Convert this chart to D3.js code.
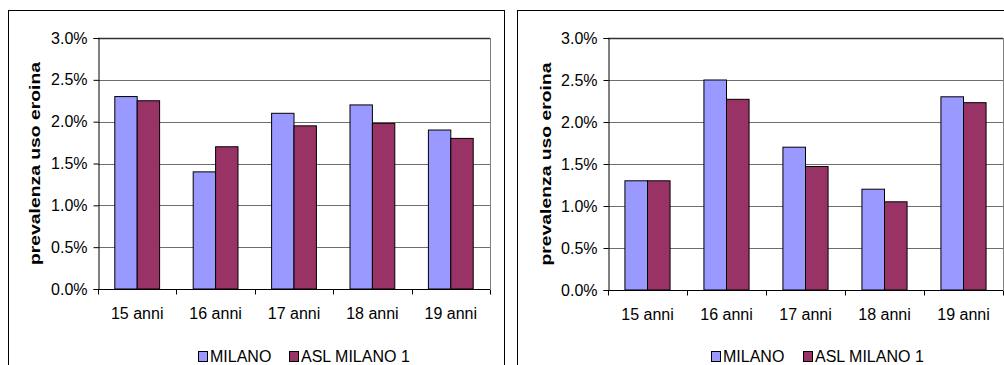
<!DOCTYPE html>
<html>
<head>
<meta charset="utf-8">
<script src="https://cdn.jsdelivr.net/npm/d3@7"></script>
<style>
  html, body { margin: 0; padding: 0; background: #fff; }
  svg { display: block; }
  text { font-family: "Liberation Sans", Arial, sans-serif; fill: #000; }
</style>
</head>
<body>
<svg id="chart" width="1004" height="365"></svg>
<script>
// Age groups and prevalence of heroin use (%), two panels
const categories = ["15 anni", "16 anni", "17 anni", "18 anni", "19 anni"];
const seriesNames = ["MILANO", "ASL MILANO 1"];
const seriesColors = ["#9999FF", "#993366"];

const leftMilano = [2.30, 1.40, 2.10, 2.20, 1.90];
const leftAsl    = [2.25, 1.70, 1.95, 1.98, 1.80];

const rightMilano = [1.30, 2.50, 1.70, 1.20, 2.30];
const rightAsl    = [1.30, 2.27, 1.47, 1.05, 2.23];

const yTicks = [0, 0.5, 1.0, 1.5, 2.0, 2.5, 3.0];
const yTitle = "prevalenza uso eroina";

const svg = d3.select("#chart");

function drawPanel(cfg) {
  const g = svg.append("g");

  // outer chart frame
  g.append("rect")
    .attr("x", cfg.frame[0] + 0.5).attr("y", cfg.frame[1] + 0.5)
    .attr("width", cfg.frame[2]).attr("height", cfg.frame[3])
    .attr("fill", "#fff").attr("stroke", "#000").attr("stroke-width", 1);

  const y = d3.scaleLinear().domain([0, 3.0]).range([cfg.plot.bottom, cfg.plot.top]);
  const x0 = d3.scaleBand().domain(categories).range([cfg.plot.left, cfg.plot.right])
    .paddingInner(0).paddingOuter(0);
  const x1 = d3.scaleBand().domain(seriesNames).range([0, x0.bandwidth()])
    .paddingInner(0).paddingOuter(0.75);

  // plot area border (right side)
  g.append("line")
    .attr("x1", Math.round(cfg.plot.right) + 0.5).attr("x2", Math.round(cfg.plot.right) + 0.5)
    .attr("y1", cfg.plot.top).attr("y2", cfg.plot.bottom)
    .attr("stroke", "#808080").attr("stroke-width", 1);

  // horizontal gridlines
  g.append("g").selectAll("line")
    .data(yTicks.filter(d => d > 0))
    .join("line")
    .attr("x1", cfg.plot.left).attr("x2", cfg.plot.right)
    .attr("y1", d => Math.round(y(d)) + 0.5).attr("y2", d => Math.round(y(d)) + 0.5)
    .attr("stroke", d => d === 3.0 ? "#333" : "#6e6e6e")
    .attr("stroke-width", d => d === 3.0 ? 1.6 : 1);

  // bars
  const rows = categories.map((c, i) => ({ cat: c, vals: [cfg.milano[i], cfg.asl[i]] }));
  g.append("g").selectAll("g")
    .data(rows)
    .join("g")
    .attr("transform", d => `translate(${x0(d.cat)},0)`)
    .selectAll("rect")
    .data(d => d.vals.map((v, k) => ({ name: seriesNames[k], v, k })))
    .join("rect")
    .attr("x", d => x1(d.name))
    .attr("y", d => y(d.v))
    .attr("width", x1.bandwidth())
    .attr("height", d => y(0) - y(d.v))
    .attr("fill", d => seriesColors[d.k])
    .attr("stroke", "#000").attr("stroke-width", 1);

  // y axis
  const yAxis = d3.axisLeft(y).tickValues(yTicks).tickSize(5).tickPadding(6)
    .tickFormat(d => d.toFixed(1) + "%");
  const ya = g.append("g")
    .attr("transform", `translate(${Math.round(cfg.plot.left) + 0.5},0)`)
    .call(yAxis);
  ya.select(".domain").attr("stroke", "#000");
  ya.selectAll(".tick line").attr("stroke", "#000");
  ya.selectAll(".tick text")
    .attr("font-size", 16).attr("font-family", "Liberation Sans, Arial, sans-serif")
    .attr("fill", "#000");

  // x axis: ticks at category boundaries
  const xa = g.append("g")
    .attr("transform", `translate(0,${Math.round(cfg.plot.bottom) + 0.5})`);
  xa.append("line")
    .attr("x1", cfg.plot.left).attr("x2", cfg.plot.right)
    .attr("stroke", "#000");
  const bounds = categories.map(c => x0(c)).concat([x0.range()[1]]);
  xa.selectAll("line.tk")
    .data(bounds)
    .join("line").attr("class", "tk")
    .attr("x1", d => Math.round(d) + 0.5).attr("x2", d => Math.round(d) + 0.5)
    .attr("y1", 0).attr("y2", 5)
    .attr("stroke", "#000");
  xa.selectAll("text")
    .data(categories)
    .join("text")
    .attr("x", d => x0(d) + x0.bandwidth() / 2)
    .attr("y", 29)
    .attr("text-anchor", "middle")
    .attr("font-size", 16)
    .text(d => d);

  // y title
  g.append("text")
    .attr("transform", `translate(${cfg.titleX},${(cfg.plot.top + cfg.plot.bottom) / 2}) rotate(-90)`)
    .attr("text-anchor", "middle")
    .attr("font-size", 15)
    .attr("font-weight", "bold")
    .attr("textLength", 203)
    .attr("lengthAdjust", "spacingAndGlyphs")
    .text(yTitle);

  // legend
  const lg = g.append("g").attr("transform", `translate(${cfg.legendX},0)`);
  const offs = [0, cfg.legendGap];
  seriesNames.forEach((n, k) => {
    lg.append("rect")
      .attr("x", offs[k] + 0.5).attr("y", 351.5)
      .attr("width", 9).attr("height", 10)
      .attr("fill", seriesColors[k]).attr("stroke", "#000");
    lg.append("text")
      .attr("x", offs[k] + 12).attr("y", 362)
      .attr("font-size", 16)
      .text(n);
  });
}

drawPanel({
  frame: [8, 10, 496, 400],
  plot: { left: 98, right: 490, top: 38, bottom: 289 },
  milano: leftMilano, asl: leftAsl,
  titleX: 40, legendX: 198, legendGap: 91
});

drawPanel({
  frame: [517, 10, 500, 400],
  plot: { left: 608, right: 1003, top: 38, bottom: 290 },
  milano: rightMilano, asl: rightAsl,
  titleX: 551, legendX: 711, legendGap: 92
});
</script>
</body>
</html>
